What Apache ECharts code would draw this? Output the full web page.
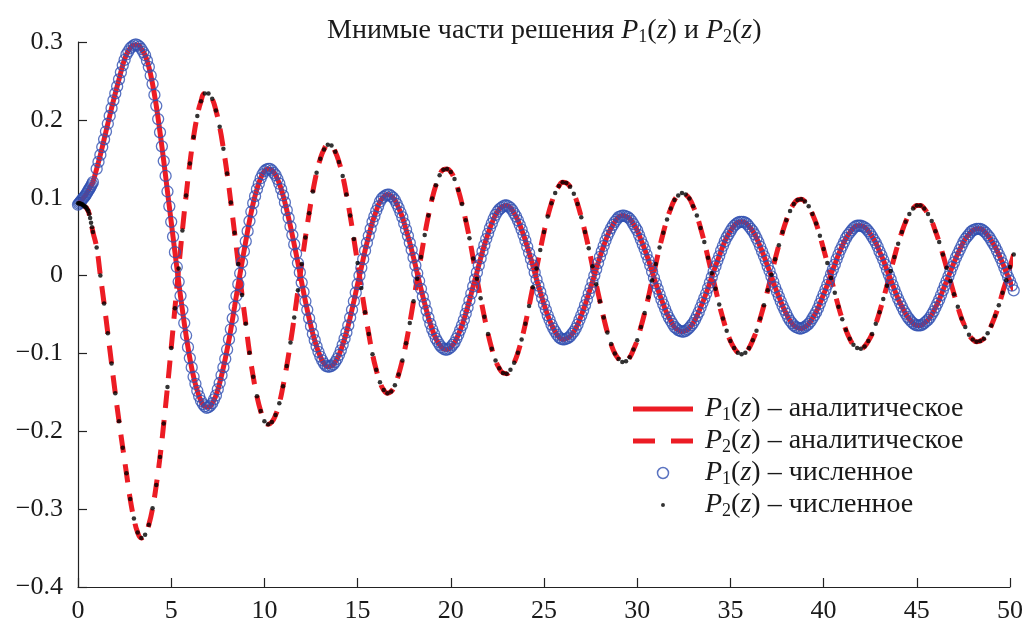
<!DOCTYPE html>
<html><head><meta charset="utf-8">
<script src="https://cdn.jsdelivr.net/npm/echarts@6/dist/echarts.min.js"></script>
<style>html,body{margin:0;padding:0;background:#fff}#c{width:1026px;height:624px}</style>
</head><body><div id="c"></div>
<script>
// dense start of the numerical solution (z = 0 ... 0.8)
const zStart = [0,0.05,0.1,0.15,0.2,0.25,0.3,0.35,0.4,0.45,0.5,0.55,0.6,0.65,0.7,0.75,0.8];
const p1Start = [0.091,0.0925,0.094,0.0955,0.097,0.0985,0.100,0.1015,0.103,0.105,0.107,0.109,0.111,0.113,0.115,0.1175,0.120];
const p2Start = [0.093,0.093,0.093,0.092,0.092,0.091,0.090,0.089,0.088,0.087,0.085,0.083,0.079,0.074,0.068,0.062,0.056];

// regular part (z = 1.0 ... 50.2)
const z = [
1,1.2,1.4,1.6,1.8,2,2.2,2.4,2.6,2.8,
3,3.2,3.4,3.6,3.8,4,4.2,4.4,4.6,4.8,
5,5.2,5.4,5.6,5.8,6,6.2,6.4,6.6,6.8,
7,7.2,7.4,7.6,7.8,8,8.2,8.4,8.6,8.8,
9,9.2,9.4,9.6,9.8,10,10.2,10.4,10.6,10.8,
11,11.2,11.4,11.6,11.8,12,12.2,12.4,12.6,12.8,
13,13.2,13.4,13.6,13.8,14,14.2,14.4,14.6,14.8,
15,15.2,15.4,15.6,15.8,16,16.2,16.4,16.6,16.8,
17,17.2,17.4,17.6,17.8,18,18.2,18.4,18.6,18.8,
19,19.2,19.4,19.6,19.8,20,20.2,20.4,20.6,20.8,
21,21.2,21.4,21.6,21.8,22,22.2,22.4,22.6,22.8,
23,23.2,23.4,23.6,23.8,24,24.2,24.4,24.6,24.8,
25,25.2,25.4,25.6,25.8,26,26.2,26.4,26.6,26.8,
27,27.2,27.4,27.6,27.8,28,28.2,28.4,28.6,28.8,
29,29.2,29.4,29.6,29.8,30,30.2,30.4,30.6,30.8,
31,31.2,31.4,31.6,31.8,32,32.2,32.4,32.6,32.8,
33,33.2,33.4,33.6,33.8,34,34.2,34.4,34.6,34.8,
35,35.2,35.4,35.6,35.8,36,36.2,36.4,36.6,36.8,
37,37.2,37.4,37.6,37.8,38,38.2,38.4,38.6,38.8,
39,39.2,39.4,39.6,39.8,40,40.2,40.4,40.6,40.8,
41,41.2,41.4,41.6,41.8,42,42.2,42.4,42.6,42.8,
43,43.2,43.4,43.6,43.8,44,44.2,44.4,44.6,44.8,
45,45.2,45.4,45.6,45.8,46,46.2,46.4,46.6,46.8,
47,47.2,47.4,47.6,47.8,48,48.2,48.4,48.6,48.8,
49,49.2,49.4,49.6,49.8,50,50.2];

const p1 = [
0.137,0.155,0.175,0.195,0.215,0.234,0.252,0.270,0.284,0.292,
0.296,0.296,0.291,0.283,0.268,0.246,0.218,0.184,0.147,0.108,
0.069,0.030,-0.008,-0.044,-0.077,-0.106,-0.130,-0.148,-0.161,-0.168,
-0.169,-0.164,-0.154,-0.138,-0.118,-0.095,-0.069,-0.040,-0.011,0.017,
0.044,0.070,0.093,0.111,0.125,0.134,0.137,0.135,0.129,0.118,
0.103,0.084,0.063,0.040,0.016,-0.009,-0.033,-0.055,-0.075,-0.091,
-0.104,-0.113,-0.117,-0.116,-0.111,-0.102,-0.089,-0.073,-0.054,-0.033,
-0.011,0.010,0.032,0.051,0.069,0.083,0.095,0.101,0.104,0.102,
0.097,0.087,0.075,0.059,0.042,0.023,0.003,-0.017,-0.036,-0.054,
-0.069,-0.081,-0.089,-0.094,-0.095,-0.092,-0.086,-0.076,-0.064,-0.049,
-0.032,-0.014,0.004,0.022,0.039,0.054,0.067,0.078,0.085,0.089,
0.090,0.087,0.080,0.071,0.059,0.045,0.029,0.013,-0.005,-0.021,
-0.037,-0.051,-0.063,-0.072,-0.079,-0.082,-0.081,-0.078,-0.072,-0.063,
-0.051,-0.038,-0.023,-0.008,0.008,0.024,0.038,0.051,0.061,0.069,
0.075,0.077,0.076,0.073,0.066,0.058,0.046,0.034,0.020,0.005,
-0.010,-0.024,-0.037,-0.049,-0.058,-0.066,-0.070,-0.072,-0.071,-0.067,
-0.061,-0.052,-0.041,-0.029,-0.016,-0.002,0.012,0.025,0.038,0.049,
0.057,0.064,0.068,0.069,0.068,0.063,0.057,0.048,0.037,0.025,
0.012,-0.001,-0.015,-0.027,-0.039,-0.049,-0.058,-0.064,-0.067,-0.068,
-0.066,-0.062,-0.055,-0.047,-0.036,-0.024,-0.012,0.002,0.014,0.027,
0.038,0.048,0.055,0.061,0.064,0.064,0.062,0.057,0.050,0.042,
0.031,0.020,0.007,-0.005,-0.018,-0.030,-0.040,-0.049,-0.056,-0.061,
-0.064,-0.064,-0.061,-0.057,-0.050,-0.041,-0.031,-0.019,-0.007,0.005,
0.017,0.028,0.038,0.047,0.053,0.058,0.060,0.060,0.057,0.052,
0.045,0.037,0.027,0.016,0.004,-0.007,-0.019];

const p2 = [
0.036,0.000,-0.036,-0.074,-0.113,-0.151,-0.187,-0.221,-0.254,-0.287,
-0.312,-0.330,-0.337,-0.333,-0.320,-0.299,-0.269,-0.233,-0.190,-0.143,
-0.093,-0.042,0.009,0.058,0.103,0.144,0.178,0.205,0.224,0.234,
0.234,0.227,0.212,0.191,0.163,0.131,0.094,0.055,0.015,-0.025,
-0.062,-0.099,-0.130,-0.155,-0.174,-0.187,-0.191,-0.188,-0.179,-0.164,
-0.142,-0.116,-0.086,-0.054,-0.019,0.015,0.049,0.080,0.108,0.132,
0.150,0.162,0.168,0.167,0.159,0.146,0.128,0.104,0.077,0.047,
0.016,-0.016,-0.047,-0.075,-0.101,-0.121,-0.137,-0.147,-0.151,-0.149,
-0.141,-0.127,-0.109,-0.087,-0.061,-0.033,-0.004,0.024,0.052,0.077,
0.099,0.116,0.129,0.136,0.137,0.133,0.124,0.110,0.092,0.071,
0.048,0.022,-0.004,-0.029,-0.053,-0.075,-0.094,-0.109,-0.119,-0.125,
-0.126,-0.121,-0.112,-0.099,-0.082,-0.062,-0.039,-0.015,0.009,0.033,
0.056,0.076,0.093,0.106,0.115,0.120,0.119,0.114,0.105,0.092,
0.075,0.056,0.035,0.012,-0.011,-0.033,-0.054,-0.073,-0.088,-0.100,
-0.107,-0.111,-0.110,-0.105,-0.095,-0.083,-0.066,-0.048,-0.028,-0.006,
0.015,0.036,0.055,0.072,0.086,0.097,0.103,0.106,0.104,0.099,
0.089,0.077,0.061,0.043,0.023,0.003,-0.017,-0.037,-0.055,-0.071,
-0.084,-0.093,-0.099,-0.101,-0.099,-0.093,-0.083,-0.071,-0.055,-0.038,
-0.019,0.001,0.021,0.039,0.056,0.071,0.083,0.092,0.097,0.098,
0.095,0.089,0.079,0.067,0.051,0.034,0.016,-0.003,-0.022,-0.040,
-0.056,-0.070,-0.081,-0.089,-0.093,-0.094,-0.091,-0.084,-0.075,-0.062,
-0.047,-0.030,-0.013,0.006,0.024,0.041,0.056,0.069,0.079,0.086,
0.090,0.090,0.086,0.079,0.070,0.057,0.043,0.027,0.010,-0.007,
-0.024,-0.040,-0.055,-0.066,-0.076,-0.082,-0.085,-0.084,-0.081,-0.074,
-0.064,-0.052,-0.038,-0.022,-0.006,0.011,0.027];

// extra numerical P1 points (the solver steps are finer for P1): z = 1.1 ... 50.1
const zMid = [
1.1,1.3,1.5,1.7,1.9,2.1,2.3,2.5,2.7,2.9,
3.1,3.3,3.5,3.7,3.9,4.1,4.3,4.5,4.7,4.9,
5.1,5.3,5.5,5.7,5.9,6.1,6.3,6.5,6.7,6.9,
7.1,7.3,7.5,7.7,7.9,8.1,8.3,8.5,8.7,8.9,
9.1,9.3,9.5,9.7,9.9,10.1,10.3,10.5,10.7,10.9,
11.1,11.3,11.5,11.7,11.9,12.1,12.3,12.5,12.7,12.9,
13.1,13.3,13.5,13.7,13.9,14.1,14.3,14.5,14.7,14.9,
15.1,15.3,15.5,15.7,15.9,16.1,16.3,16.5,16.7,16.9,
17.1,17.3,17.5,17.7,17.9,18.1,18.3,18.5,18.7,18.9,
19.1,19.3,19.5,19.7,19.9,20.1,20.3,20.5,20.7,20.9,
21.1,21.3,21.5,21.7,21.9,22.1,22.3,22.5,22.7,22.9,
23.1,23.3,23.5,23.7,23.9,24.1,24.3,24.5,24.7,24.9,
25.1,25.3,25.5,25.7,25.9,26.1,26.3,26.5,26.7,26.9,
27.1,27.3,27.5,27.7,27.9,28.1,28.3,28.5,28.7,28.9,
29.1,29.3,29.5,29.7,29.9,30.1,30.3,30.5,30.7,30.9,
31.1,31.3,31.5,31.7,31.9,32.1,32.3,32.5,32.7,32.9,
33.1,33.3,33.5,33.7,33.9,34.1,34.3,34.5,34.7,34.9,
35.1,35.3,35.5,35.7,35.9,36.1,36.3,36.5,36.7,36.9,
37.1,37.3,37.5,37.7,37.9,38.1,38.3,38.5,38.7,38.9,
39.1,39.3,39.5,39.7,39.9,40.1,40.3,40.5,40.7,40.9,
41.1,41.3,41.5,41.7,41.9,42.1,42.3,42.5,42.7,42.9,
43.1,43.3,43.5,43.7,43.9,44.1,44.3,44.5,44.7,44.9,
45.1,45.3,45.5,45.7,45.9,46.1,46.3,46.5,46.7,46.9,
47.1,47.3,47.5,47.7,47.9,48.1,48.3,48.5,48.7,48.9,
49.1,49.3,49.5,49.7,49.9,50.1];

const p1Mid = [
0.146,0.165,0.185,0.205,0.225,0.243,0.261,0.277,0.288,0.294,
0.297,0.294,0.287,0.276,0.257,0.232,0.201,0.166,0.128,0.089,
0.050,0.011,-0.026,-0.061,-0.092,-0.118,-0.139,-0.155,-0.165,-0.170,
-0.167,-0.159,-0.146,-0.128,-0.107,-0.082,-0.055,-0.026,0.003,0.031,
0.057,0.082,0.102,0.118,0.130,0.136,0.137,0.132,0.124,0.111,
0.094,0.074,0.052,0.028,0.004,-0.021,-0.044,-0.065,-0.083,-0.098,
-0.109,-0.116,-0.117,-0.114,-0.107,-0.096,-0.081,-0.064,-0.044,-0.022,
0.000,0.021,0.042,0.060,0.076,0.089,0.099,0.103,0.104,0.100,
0.092,0.081,0.067,0.051,0.033,0.013,-0.007,-0.027,-0.045,-0.062,
-0.075,-0.085,-0.092,-0.095,-0.094,-0.089,-0.081,-0.070,-0.057,-0.041,
-0.023,-0.005,0.013,0.031,0.047,0.061,0.073,0.082,0.087,0.090,
0.089,0.084,0.076,0.065,0.052,0.037,0.021,0.004,-0.013,-0.029,
-0.044,-0.057,-0.068,-0.076,-0.081,-0.082,-0.080,-0.075,-0.068,-0.057,
-0.045,-0.031,-0.016,0.000,0.016,0.031,0.045,0.056,0.065,0.072,
0.076,0.077,0.075,0.070,0.062,0.052,0.040,0.027,0.013,-0.003,
-0.017,-0.031,-0.043,-0.054,-0.062,-0.068,-0.071,-0.072,-0.069,-0.064,
-0.057,-0.047,-0.035,-0.023,-0.009,0.005,0.019,0.032,0.044,0.053,
0.061,0.066,0.069,0.069,0.066,0.060,0.053,0.043,0.031,0.019,
0.006,-0.008,-0.021,-0.033,-0.044,-0.054,-0.061,-0.066,-0.068,-0.067,
-0.064,-0.059,-0.051,-0.042,-0.030,-0.018,-0.005,0.008,0.021,0.033,
0.043,0.052,0.058,0.063,0.064,0.063,0.060,0.054,0.046,0.037,
0.026,0.014,0.001,-0.012,-0.024,-0.035,-0.045,-0.053,-0.059,-0.063,
-0.064,-0.063,-0.059,-0.054,-0.046,-0.036,-0.025,-0.013,-0.001,0.011,
0.023,0.033,0.043,0.050,0.056,0.059,0.060,0.059,0.055,0.049,
0.041,0.032,0.022,0.010,-0.002,-0.013];

const seriesNames = ['P1(z) – аналитическое','P2(z) – аналитическое','P1(z) – численное','P2(z) – численное'];
const legendTexts = [
  '{i|P}{s|1}{t|(}{i|z}{t|) – аналитическое}',
  '{i|P}{s|2}{t|(}{i|z}{t|) – аналитическое}',
  '{i|P}{s|1}{t|(}{i|z}{t|) – численное}',
  '{i|P}{s|2}{t|(}{i|z}{t|) – численное}'
];
const titleText = '{t|Мнимые части решения }{i|P}{s|1}{t|(}{i|z}{t|) и }{i|P}{s|2}{t|(}{i|z}{t|)}';

const FONT = "'Liberation Serif','Times New Roman',serif";
const RED = '#ec1c24', BLUE = '#3150b2', BLACK = '#000';

const allZ = zStart.concat(z);
const d1 = allZ.map((x, i) => [x, i < zStart.length ? p1Start[i] : p1[i - zStart.length]]);
const d2 = allZ.map((x, i) => [x, i < zStart.length ? p2Start[i] : p2[i - zStart.length]]);
const d1n = d1.concat(zMid.map((x, i) => [x, p1Mid[i]]));

function rich(size, sub) {
  return {
    t: {fontFamily: FONT, fontSize: size, fontWeight: 'normal', lineHeight: 30, color: '#1a1a1a'},
    i: {fontFamily: FONT, fontSize: size, fontWeight: 'normal', fontStyle: 'italic', lineHeight: 30, color: '#1a1a1a'},
    s: {fontFamily: FONT, fontSize: sub, fontWeight: 'normal', lineHeight: 14, verticalAlign: 'bottom', color: '#1a1a1a'}
  };
}

const chart = echarts.init(document.getElementById('c'), null, {renderer: 'canvas'});
chart.setOption({
  animation: false,
  backgroundColor: '#fff',
  title: {
    text: titleText, left: 327, top: 16, padding: 0,
    textStyle: {fontWeight: 'normal', rich: rich(28, 18)}
  },
  grid: {left: 78, right: 13, top: 42, bottom: 31, containLabel: false},
  legend: {
    orient: 'vertical', left: 633, top: 395, padding: 0, itemWidth: 60, itemHeight: 11, itemGap: 3,
    selectedMode: false,
    formatter: name => legendTexts[seriesNames.indexOf(name)],
    textStyle: {rich: rich(28, 18), padding: [0, 0, 0, 7]},
    data: [
      {name: seriesNames[0], icon: 'path://M0,0H60V5H0Z', itemStyle: {color: RED, borderWidth: 0}},
      {name: seriesNames[1], icon: 'path://M0,0H22V5H0ZM38,0H60V5H38Z', itemStyle: {color: RED, borderWidth: 0}},
      {name: seriesNames[2], icon: 'circle', itemStyle: {color: 'rgba(0,0,0,0)', borderColor: BLUE, borderWidth: 1.5}},
      {name: seriesNames[3], icon: 'path://M0,0M10,10M3.2,5a1.8,1.8 0 1,0 3.6,0a1.8,1.8 0 1,0 -3.6,0z', itemStyle: {color: BLACK}}
    ]
  },
  xAxis: {
    type: 'value', min: 0, max: 50, interval: 5,
    axisLine: {show: true, onZero: false, lineStyle: {color: '#222', width: 1.2}},
    axisTick: {show: true, inside: true, length: 9, lineStyle: {color: '#222', width: 1.2}},
    splitLine: {show: false},
    axisLabel: {fontFamily: FONT, fontSize: 26, color: '#1a1a1a', margin: 11}
  },
  yAxis: {
    type: 'value', min: -0.4, max: 0.3, interval: 0.1,
    axisLine: {show: true, onZero: false, lineStyle: {color: '#222', width: 1.2}},
    axisTick: {show: true, inside: true, length: 9, lineStyle: {color: '#222', width: 1.2}},
    splitLine: {show: false},
    axisLabel: {
      fontFamily: FONT, fontSize: 26, color: '#1a1a1a', margin: 15,
      formatter: v => String(Math.round(v * 10) / 10).replace('-', '−')
    }
  },
  series: [
    {name: seriesNames[0], type: 'line', data: d1, symbol: 'none', smooth: true, clip: false, z: 1,
     lineStyle: {color: RED, width: 5}, itemStyle: {color: RED}},
    {name: seriesNames[1], type: 'line', data: d2, symbol: 'none', smooth: true, clip: false, z: 2,
     lineStyle: {color: RED, width: 5, type: [18, 12]}, itemStyle: {color: RED}},
    {name: seriesNames[2], type: 'scatter', data: d1n, symbol: 'circle', symbolSize: 11, clip: false, z: 3,
     itemStyle: {color: 'rgba(0,0,0,0)', borderColor: BLUE, borderWidth: 1.3}},
    {name: seriesNames[3], type: 'scatter', data: d2, symbol: 'circle', symbolSize: 4.5, clip: false, z: 4,
     itemStyle: {color: BLACK}}
  ]
});
</script></body></html>
